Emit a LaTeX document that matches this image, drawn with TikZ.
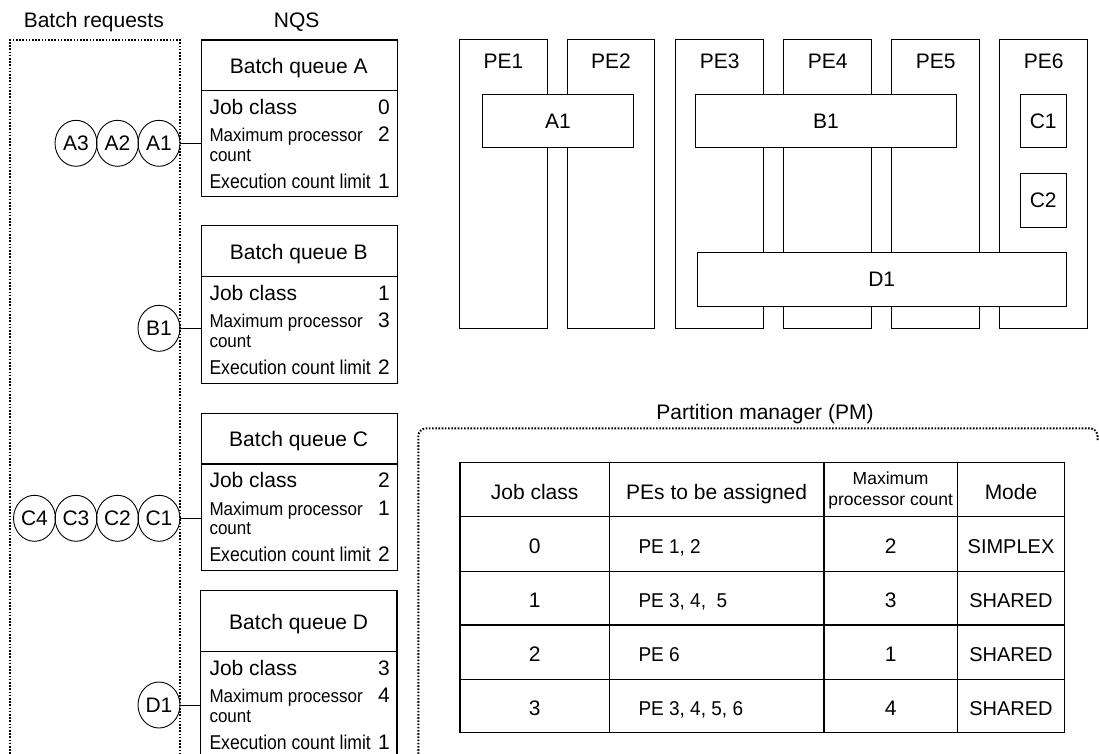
\documentclass[tikz,border=0pt]{standalone}
\usepackage{fontspec}
\setmainfont{Liberation Sans}
\usepackage{graphicx}
\usetikzlibrary{shapes.geometric}

% horizontal squeeze of a piece of text
\newcommand\hsqueeze[2]{\scalebox{#1}[1]{#2}}

\tikzset{
  qframe/.style={draw, line width=1.4pt, anchor=north west, minimum width=196pt, inner sep=0pt},
  qopen/.style={anchor=north west, minimum width=196pt, inner sep=0pt},
  dots/.style={line width=2pt, dash pattern=on 1.6pt off 1.6pt},
  req/.style={draw, ellipse, line width=0.9pt, minimum width=42pt, minimum height=46pt, inner sep=0pt},
  link/.style={line width=0.9pt},
  pebox/.style={draw, line width=1pt, anchor=north west, minimum width=87.7pt, minimum height=289.3pt, inner sep=0pt},
  task/.style={draw, fill=white, line width=1pt, anchor=north west, inner sep=0pt},
  grid/.style={line width=1.2pt},
  rowtext/.style={anchor=base west, inner sep=0pt},
  rowval/.style={anchor=base east, inner sep=0pt},
  small/.style={font=\fontsize{18.5}{21}\selectfont},
  cell/.style={anchor=base, inner sep=0pt},
  cellw/.style={anchor=base west, inner sep=0pt},
}

% one NQS batch queue: #1 id, #2 top, #3 header rule, #4 bottom,
% #5 job class, #6 max processors, #7 execution limit, #8 frame style
\newcommand\nqsqueue[8]{%
  \node[#8, minimum height={#4-#2}] (q#1) at (200.7,#2) {};
  \node[anchor=base, inner sep=0pt] (q#1t) at (298.7,{(#2+#3)/2+8.5}) {Batch queue #1};
  \draw[line width=1.4pt] (q#1.west |- 0,#3) -- (q#1.east |- 0,#3);
  \node[rowtext] (q#1a) at (209.3,{#3+23.6}) {Job class};
  \node[rowval] (q#1av) at (390,{#3+23.6}) {#5};
  \node[rowtext, small] (q#1b) at (209.3,{#3+51}) {\hsqueeze{0.92}{Maximum processor}};
  \node[rowval] (q#1bv) at (390,{#3+51}) {#6};
  \node[rowtext, small] (q#1c) at (209.3,{#3+70.3}) {\hsqueeze{0.92}{count}};
  \node[rowtext] (q#1d) at (209.3,{#3+97.6}) {\hsqueeze{0.88}{\fontsize{20}{22}\selectfont Execution count limit}};
  \node[rowval] (q#1dv) at (390,{#3+97.6}) {#7};
}

\begin{document}
\begin{tikzpicture}[x=1pt, y=-1pt, font=\fontsize{21}{24}\selectfont]
\useasboundingbox (0,0) rectangle (1099,754);

% headings
\node[anchor=base, inner sep=0pt] (hreq) at (93.8,27.3) {Batch requests};
\node[anchor=base, inner sep=0pt] (hnqs) at (296.7,27.3) {NQS};

% batch request area
\draw[dots] (10,754) -- (10,40) -- (180,40) -- (180,754);

% NQS queues
\nqsqueue{A}{39.3}{90.7}{195.7}{0}{2}{1}{qframe}
\nqsqueue{B}{225}{276.7}{382.7}{1}{3}{2}{qframe}
\nqsqueue{C}{412.7}{464}{570}{2}{1}{2}{qframe}
\nqsqueue{D}{590.7}{651.7}{754}{3}{4}{1}{qopen}
\draw[line width=1.4pt] (qD.south west) |- (qD.north east) -- (qD.south east);

% queued requests
\node[req] (rA1) at (159,143.3) {A1};
\node[req] (rA2) at (117.5,143.3) {A2};
\node[req] (rA3) at (76,143.3) {A3};
\node[req] (rB1) at (159,328.3) {B1};
\node[req] (rC1) at (159,518.3) {C1};
\node[req] (rC2) at (117.5,518.3) {C2};
\node[req] (rC3) at (76,518.3) {C3};
\node[req] (rC4) at (34.5,518.3) {C4};
\node[req] (rD1) at (159,705) {D1};

\draw[link] (rA1.east) -- (rA1.east -| qA.west);
\draw[link] (rB1.east) -- (rB1.east -| qB.west);
\draw[link] (rC1.east) -- (rC1.east -| qC.west);
\draw[link] (rD1.east) -- (rD1.east -| qD.west);

% processing elements
\foreach \i/\x in {1/459,2/566.7,3/675.3,4/783.3,5/891.3,6/999.3} {
  \node[pebox] (pe\i) at (\x,39) {};
  \node[anchor=base, inner sep=0pt] (pel\i) at (pe\i.north |- 0,68.3) {PE\i};
}

% running jobs
\node[task, minimum width=150.4pt, minimum height=53.3pt] (tA1) at (482.3,94) {A1};
\node[task, minimum width=260.4pt, minimum height=53.3pt] (tB1) at (695.3,94) {B1};
\node[task, minimum width=46pt, minimum height=53.3pt] (tC1) at (1019.7,94) {C1};
\node[task, minimum width=46pt, minimum height=54pt] (tC2) at (1019.7,172.7) {C2};
\node[task, minimum width=369pt, minimum height=54pt] (tD1) at (696.7,251.7) {D1};

% partition manager
\node[anchor=base, inner sep=0pt] (hpm) at (765,419) {Partition manager (PM)};
\draw[dots, rounded corners=8pt] (1097.5,440) -- (1097.5,428.3) -- (418.3,428.3) -- (418.3,754);

% table grid
\draw[grid] (460,462.7) rectangle (1064.7,732.7);
\foreach \y in {516.7,571.7,625,679.3}
  \draw[grid] (460,\y) -- (1064.7,\y);
\foreach \x in {609.3,824,957.3}
  \draw[grid] (\x,462.7) -- (\x,732.7);

% table header
\node[cell] (th1) at (534.65,499) {Job class};
\node[cell] (th2) at (716.65,499) {PEs to be assigned};
\node[align=center, inner sep=0pt, font=\fontsize{17.5}{21}\selectfont] (th3) at (890.65,490.5) {Maximum\\processor count};
\node[cell] (th4) at (1011,499) {Mode};

% table rows
\foreach \n/\y/\pes/\mx/\md in {0/553.2/{PE 1, 2}/2/SIMPLEX,
                                1/607.4/{PE 3, 4,~ 5}/3/SHARED,
                                2/661.2/{PE 6}/1/SHARED,
                                3/715/{PE 3, 4, 5, 6}/4/SHARED} {
  \node[cell] (tc\n) at (534.65,\y) {\n};
  \node[cellw] (tp\n) at (638.3,\y) {\hsqueeze{0.95}{\fontsize{20}{22}\selectfont \pes}};
  \node[cell] (tm\n) at (890.65,\y) {\mx};
  \node[cell, font=\fontsize{20}{22}\selectfont] (td\n) at (1011,\y) {\md};
}
\end{tikzpicture}
\end{document}
